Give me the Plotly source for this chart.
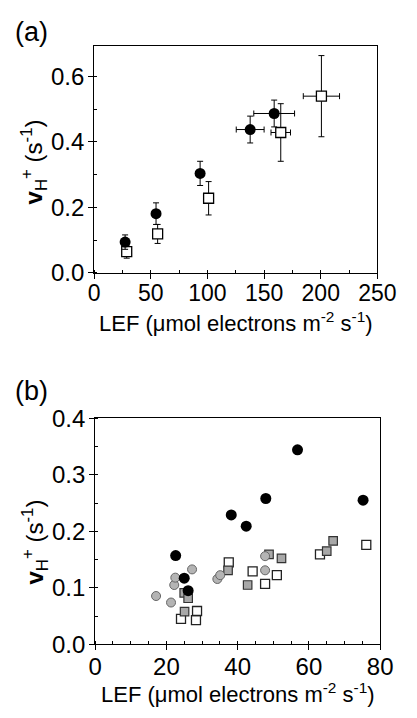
import plotly.graph_objects as go

# ---------- Panel (a) data ----------
a_circ_x = [27.3, 54.6, 93.5, 137.7, 158.9]
a_circ_y = [0.094, 0.181, 0.304, 0.438, 0.487]
a_circ_yerr = [0.022, 0.033, 0.037, 0.041, 0.041]
a_circ_xerr = [None, None, None, 12.3, 18.0]

a_sq_x = [28.7, 56.0, 101.0, 164.7, 200.6]
a_sq_y = [0.065, 0.119, 0.228, 0.429, 0.540]
a_sq_yerr = [0.02, 0.029, 0.051, 0.088, 0.124]
a_sq_xerr = [None, None, None, 8.6, 16.0]

# ---------- Panel (b) data ----------
b_black_x = [22.6, 25.0, 26.1, 38.2, 42.4, 47.9, 56.8, 75.2]
b_black_y = [0.157, 0.117, 0.095, 0.229, 0.209, 0.258, 0.344, 0.255]

b_grayc_x = [17.1, 21.3, 22.2, 22.5, 27.2, 34.3, 35.1, 47.7, 47.7]
b_grayc_y = [0.0855, 0.074, 0.105, 0.118, 0.1326, 0.1156, 0.1224, 0.131, 0.156]

b_grays_x = [25.0, 26.1, 25.1, 37.3, 42.8, 48.8, 52.3, 65.0, 66.8]
b_grays_y = [0.091, 0.0816, 0.058, 0.131, 0.105, 0.159, 0.152, 0.165, 0.183]

b_open_x = [24.1, 28.3, 28.6, 37.5, 44.2, 47.7, 51.0, 63.1, 76.1]
b_open_y = [0.045, 0.043, 0.059, 0.145, 0.129, 0.107, 0.1224, 0.159, 0.176]

W, H = 417, 718
FONT = "Liberation Sans, Arial, sans-serif"

fig = go.Figure()

def eb(arr):
    return dict(type="data", array=arr, visible=True, color="black",
                thickness=1, width=3)

# Panel (a)
fig.add_trace(go.Scatter(
    x=a_sq_x, y=a_sq_y, mode="markers", xaxis="x", yaxis="y",
    error_y=eb(a_sq_yerr), error_x=eb(a_sq_xerr),
    marker=dict(symbol="square", size=10, color="white",
                line=dict(color="black", width=1.3)),
    showlegend=False))
fig.add_trace(go.Scatter(
    x=a_circ_x, y=a_circ_y, mode="markers", xaxis="x", yaxis="y",
    error_y=eb(a_circ_yerr), error_x=eb(a_circ_xerr),
    marker=dict(symbol="circle", size=11, color="black",
                line=dict(color="black", width=0)),
    showlegend=False))

# Panel (b)
fig.add_trace(go.Scatter(
    x=b_open_x, y=b_open_y, mode="markers", xaxis="x2", yaxis="y2",
    marker=dict(symbol="square", size=9, color="white",
                line=dict(color="#222222", width=1.3)),
    showlegend=False))
fig.add_trace(go.Scatter(
    x=b_grays_x, y=b_grays_y, mode="markers", xaxis="x2", yaxis="y2",
    marker=dict(symbol="square", size=8.5, color="#a8a8a8",
                line=dict(color="#333333", width=1.2)),
    showlegend=False))
fig.add_trace(go.Scatter(
    x=b_grayc_x, y=b_grayc_y, mode="markers", xaxis="x2", yaxis="y2",
    marker=dict(symbol="circle", size=9, color="#b4b4b4",
                line=dict(color="#666666", width=1)),
    showlegend=False))
fig.add_trace(go.Scatter(
    x=b_black_x, y=b_black_y, mode="markers", xaxis="x2", yaxis="y2",
    marker=dict(symbol="circle", size=11, color="black",
                line=dict(color="black", width=0)),
    showlegend=False))

def axis_common(size):
    return dict(
        showline=True, linecolor="black", linewidth=1, mirror=True,
        showgrid=False, zeroline=False,
        ticks="outside", ticklen=5, tickwidth=1, tickcolor="black",
        tickfont=dict(family=FONT, size=size, color="black"),
    )

def px2fx(p):
    return p / W

def py2fy(p):
    return 1 - p / H

fig.update_layout(
    width=W, height=H,
    margin=dict(l=0, r=0, t=0, b=0),
    paper_bgcolor="white", plot_bgcolor="white",
    font=dict(family=FONT, color="black"),
    xaxis=dict(axis_common(23), domain=[px2fx(93), px2fx(395)], anchor="y",
               range=[0, 250], tickvals=[0, 50, 100, 150, 200, 250],
               ticklabelstandoff=-5,
               minor=dict(dtick=25, ticks="inside", ticklen=3, tickcolor="black")),
    yaxis=dict(axis_common(24), domain=[py2fy(269), py2fy(33)], anchor="x",
               range=[0, 0.694], tickvals=[0, 0.2, 0.4, 0.6], tickformat=".1f",
               ticklabelstandoff=-1,
               minor=dict(dtick=0.1, ticks="inside", ticklen=3, tickcolor="black")),
    xaxis2=dict(axis_common(24), domain=[px2fx(94), px2fx(398)], anchor="y2",
                range=[0, 80], tickvals=[0, 20, 40, 60, 80],
                ticklabelstandoff=-4,
                minor=dict(dtick=5, ticks="inside", ticklen=3, tickcolor="black")),
    yaxis2=dict(axis_common(24), domain=[py2fy(655), py2fy(420)], anchor="x2",
                range=[0, 0.4], tickvals=[0, 0.1, 0.2, 0.3, 0.4], tickformat=".1f",
                ticklabelstandoff=-1,
                minor=dict(dtick=0.05, ticks="inside", ticklen=3, tickcolor="black")),
)

xtitle = "LEF (\u03bcmol electrons m<sup>-2</sup> s<sup>-1</sup>)"
ytitle = "<b>v</b><sub>H</sub><sup>+</sup> (s<sup>-1</sup>)"

annots = [
    dict(text="(a)", x=px2fx(6), y=py2fy(19), xanchor="left", yanchor="middle",
         font=dict(size=27)),
    dict(text="(b)", x=px2fx(6), y=py2fy(392), xanchor="left", yanchor="middle",
         font=dict(size=27)),
    dict(text=xtitle, x=px2fx(244), y=py2fy(320), xanchor="center", yanchor="middle",
         font=dict(size=22)),
    dict(text=xtitle, x=px2fx(246), y=py2fy(706), xanchor="center", yanchor="middle",
         font=dict(size=22)),
    dict(text=ytitle, x=px2fx(29), y=py2fy(154), xanchor="center", yanchor="middle",
         textangle=-90, font=dict(size=24)),
    dict(text=ytitle, x=px2fx(30), y=py2fy(549), xanchor="center", yanchor="middle",
         textangle=-90, font=dict(size=24)),
]
for a in annots:
    a.update(xref="paper", yref="paper", showarrow=False)
    a["font"].update(family=FONT, color="black")
fig.update_layout(annotations=annots)

fig.write_html("out.html")
